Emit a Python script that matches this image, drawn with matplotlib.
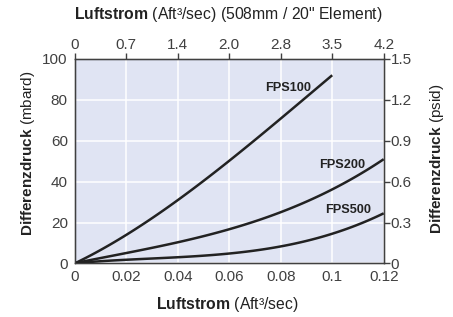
import matplotlib
matplotlib.use("Agg")
import matplotlib.pyplot as plt
import numpy as np
from matplotlib.ticker import FixedLocator, FixedFormatter

plt.rcParams["font.family"] = ["Liberation Sans", "DejaVu Sans"]
plt.rcParams["mathtext.fontset"] = "custom"
plt.rcParams["mathtext.rm"] = "Liberation Sans"
plt.rcParams["mathtext.bf"] = "Liberation Sans:bold"

# data
flow = [0, 0.02, 0.04, 0.06, 0.08, 0.10, 0.12]
fps100 = [0, 14, 31, 50, 71, 92]
fps200 = [0, 5.5, 10, 16.5, 25.5, 36, 51]
fps500 = [0, 2, 3, 4.7, 8.2, 14.8, 24.4]

x_ticks = [0, 0.02, 0.04, 0.06, 0.08, 0.1, 0.12]
x_labels = ["0", "0.02", "0.04", "0.06", "0.08", "0.1", "0.12"]
top_labels = ["0", "0.7", "1.4", "2.0", "2.8", "3.5", "4.2"]
y_ticks = [0, 20, 40, 60, 80, 100]
right_labels = ["0", "0.3", "0.6", "0.9", "1.2", "1.5"]

bg = "#e0e4f3"
dark = "#404040"
line_col = "#222222"
tick_size = 11
lab_size = 11.3

fig = plt.figure(figsize=(4.53, 3.17), dpi=100)
ax = fig.add_axes([0.165, 0.169, 0.682, 0.645])
ax.set_facecolor(bg)


def smooth(xs, ys):
    xs = np.array(xs[:len(ys)])
    ys = np.array(ys)
    c = np.polyfit(xs, ys, 3)
    xx = np.linspace(0, xs[-1], 100)
    yy = np.polyval(c, xx)
    yy[0] = 0
    return xx, np.clip(yy, 0, None)


for ys in (fps100, fps200, fps500):
    xx, yy = smooth(flow, ys)
    ax.plot(xx, yy, color=line_col, lw=1.8, solid_capstyle="butt", zorder=3)

ax.set_xlim(0, 0.12)
ax.set_ylim(0, 100)
ax.set_xticks(x_ticks)
ax.set_xticklabels(x_labels, fontsize=tick_size)
ax.set_yticks(y_ticks)
ax.set_yticklabels([str(v) for v in y_ticks], fontsize=tick_size)
ax.tick_params(axis="both", length=0, pad=5, colors=dark)
ax.grid(True, color="white", lw=1.1)
ax.set_axisbelow(True)
for s in ax.spines.values():
    s.set_color(dark)
    s.set_linewidth(1.0)

axr = ax.twinx()
axr.set_ylim(0, 100)
axr.yaxis.set_major_locator(FixedLocator(y_ticks))
axr.yaxis.set_major_formatter(FixedFormatter(right_labels))
axr.tick_params(axis="y", length=4, width=1, pad=1, colors=dark,
                direction="out", labelsize=tick_size)

axt = ax.twiny()
axt.set_xlim(0, 0.12)
axt.xaxis.set_major_locator(FixedLocator(x_ticks))
axt.xaxis.set_major_formatter(FixedFormatter(top_labels))
axt.tick_params(axis="x", length=4, width=1, pad=1, colors=dark,
                direction="out", labelsize=tick_size)
for a in (axr, axt):
    for s in a.spines.values():
        s.set_color(dark)

name_font = dict(weight="bold", size=9.2, color=line_col, ha="center", va="center")
ax.text(0.0828, 86, "FPS100", **name_font)
ax.text(0.1037, 48, "FPS200", **name_font)
ax.text(0.1063, 26, "FPS500", **name_font)

fig.text(0.503, 0.038, "$\\mathbf{Luftstrom}$ (Aft³/sec)", ha="center", va="center",
         fontsize=lab_size, color=line_col)
fig.text(0.505, 0.953, "$\\mathbf{Luftstrom}$ (Aft³/sec) (508mm / 20\" Element)",
         ha="center", va="center", fontsize=lab_size, color=line_col)
fig.text(0.061, 0.515, "$\\mathbf{Differenzdruck}$ (mbard)", ha="center", va="center",
         rotation=90, fontsize=lab_size - 0.3, color=line_col)
fig.text(0.964, 0.50, "$\\mathbf{Differenzdruck}$ (psid)", ha="center", va="center",
         rotation=90, fontsize=lab_size - 0.3, color=line_col)

fig.savefig("out.png", dpi=100)
